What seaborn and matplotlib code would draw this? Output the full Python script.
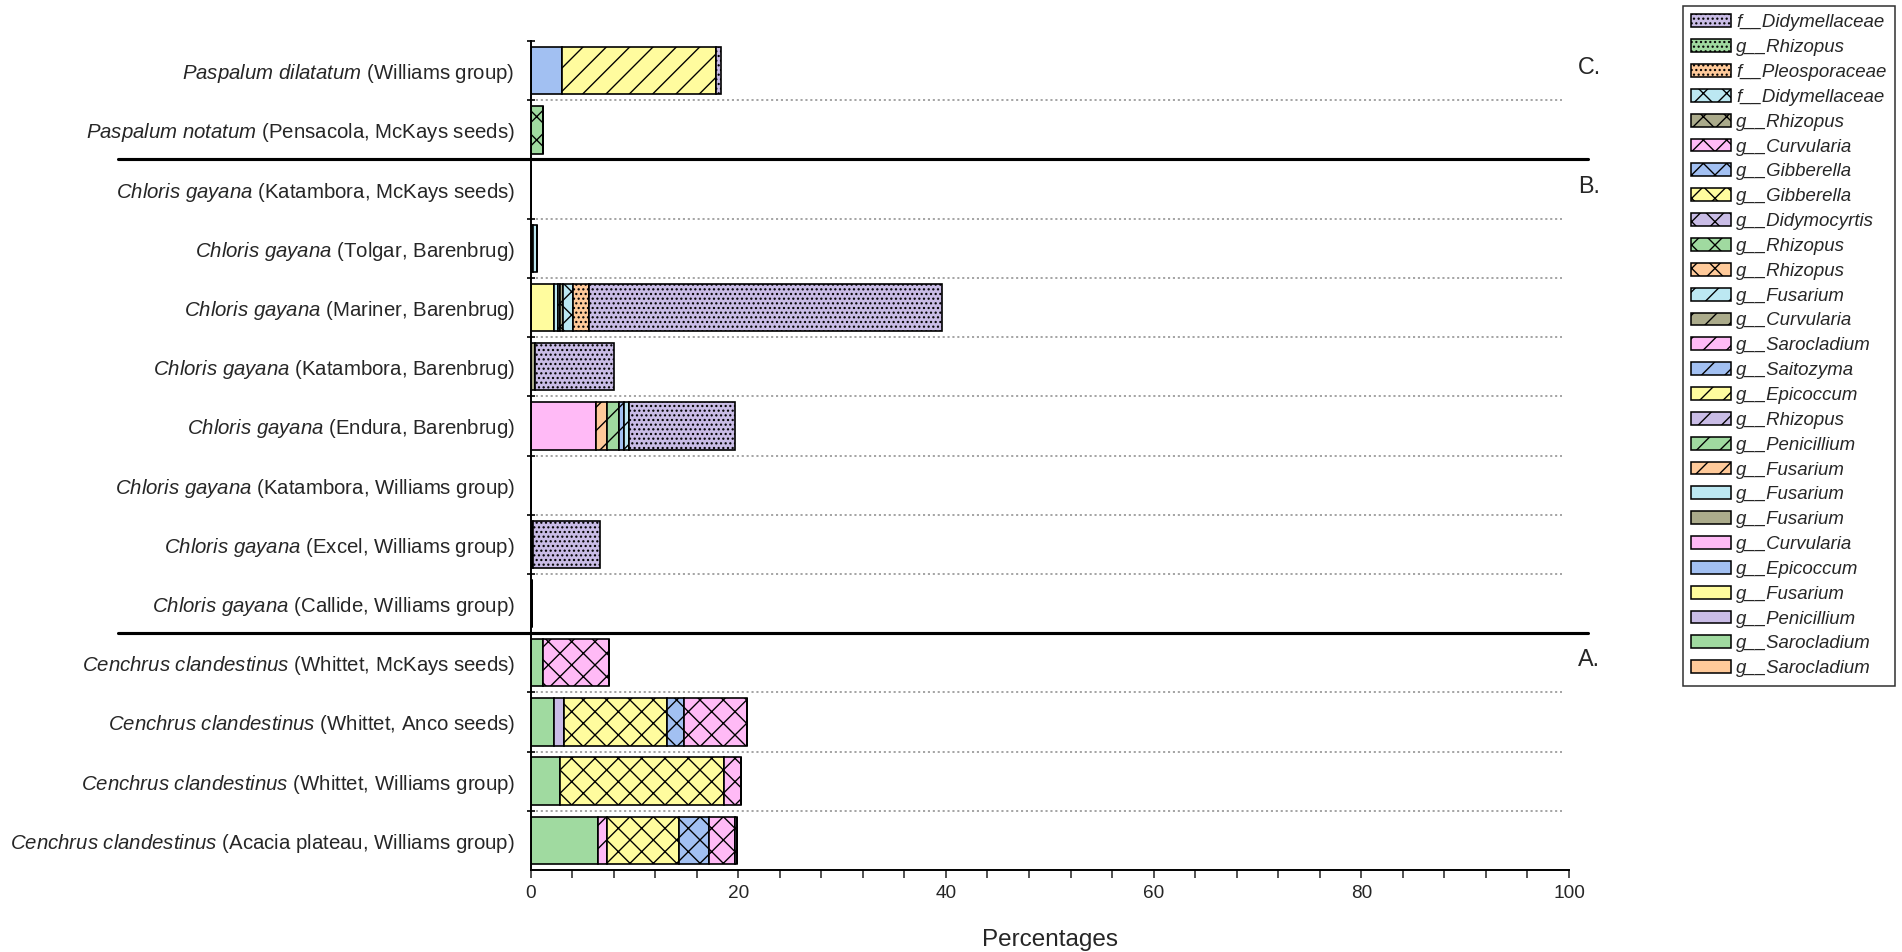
import numpy as np
import pandas as pd
import seaborn as sns
import matplotlib.pyplot as plt
from matplotlib.patches import Patch
from matplotlib.transforms import blended_transform_factory

# taxa, listed in stacking order (left to right in a bar, bottom to top in the legend)
taxa = ["g__Sarocladium", "g__Sarocladium", "g__Penicillium", "g__Fusarium",
        "g__Epicoccum", "g__Curvularia", "g__Fusarium", "g__Fusarium",
        "g__Fusarium", "g__Penicillium", "g__Rhizopus", "g__Epicoccum",
        "g__Saitozyma", "g__Sarocladium", "g__Curvularia", "g__Fusarium",
        "g__Rhizopus", "g__Rhizopus", "g__Didymocyrtis", "g__Gibberella",
        "g__Gibberella", "g__Curvularia", "g__Rhizopus", "f__Didymellaceae",
        "f__Pleosporaceae", "g__Rhizopus", "f__Didymellaceae"]
fills = ["#FFCA9A", "#A0DAA0", "#C9BCE6", "#FFFC9E",
         "#A2C0F2", "#FFBAF6", "#ABAB8B", "#BCE8F2"]
hatches = ["", "//", "xx", "....."]

species = ["Paspalum dilatatum", "Paspalum notatum"] + ["Chloris gayana"] * 8 + \
          ["Cenchrus clandestinus"] * 4
details = ["Williams group", "Pensacola, McKays seeds", "Katambora, McKays seeds",
           "Tolgar, Barenbrug", "Mariner, Barenbrug", "Katambora, Barenbrug",
           "Endura, Barenbrug", "Katambora, Williams group", "Excel, Williams group",
           "Callide, Williams group", "Whittet, McKays seeds", "Whittet, Anco seeds",
           "Whittet, Williams group", "Acacia plateau, Williams group"]

# percentages per sample, keyed by taxon index
pd_williams = {4: 3.0, 11: 14.9, 26: 0.45}
pn_pensacola = {17: 1.25}
cg_katambora_mckays = {}
cg_tolgar = {6: 0.2, 7: 0.45}
cg_mariner = {3: 2.3, 7: 0.3, 15: 0.2, 22: 0.3, 23: 1.0, 24: 1.5, 26: 34.0}
cg_katambora_baren = {6: 0.4, 26: 7.65}
cg_endura = {5: 6.3, 8: 1.1, 9: 1.1, 12: 0.55, 15: 0.4, 26: 10.2}
cg_katambora_williams = {}
cg_excel = {15: 0.27, 26: 6.43}
cg_callide = {6: 0.15}
cc_mckays = {1: 1.25, 21: 6.3}
cc_anco = {1: 2.3, 2: 0.9, 19: 9.9, 20: 1.7, 21: 6.0}
cc_williams = {1: 2.8, 19: 15.8, 21: 1.7}
cc_acacia = {1: 6.5, 13: 0.9, 19: 6.9, 20: 2.9, 21: 2.5, 23: 0.2}

samples = [pd_williams, pn_pensacola, cg_katambora_mckays, cg_tolgar, cg_mariner,
           cg_katambora_baren, cg_endura, cg_katambora_williams, cg_excel,
           cg_callide, cc_mckays, cc_anco, cc_williams, cc_acacia]

rows = [s + " (" + d + ")" for s, d in zip(species, details)]
table = pd.DataFrame([[smp.get(i, 0.0) for i in range(len(taxa))] for smp in samples],
                     index=rows)
lefts = table.cumsum(axis=1).shift(1, axis=1).fillna(0.0)

DPI = 140
sns.set_style("white")
plt.rcParams["font.family"] = ["Liberation Sans", "DejaVu Sans"]
plt.rcParams["mathtext.fontset"] = "custom"
plt.rcParams["mathtext.rm"] = "Liberation Sans"
plt.rcParams["mathtext.it"] = "Liberation Sans:italic"
plt.rcParams["hatch.linewidth"] = 0.7

fig = plt.figure(figsize=(1902 / DPI, 952 / DPI), dpi=DPI)
ax = fig.add_axes([530.5 / 1902, 1 - 870 / 952, 1038.5 / 1902, 829 / 952])

# dotted separators between samples
for k in range(len(rows) - 1):
    if k in (1, 9):
        continue
    ax.hlines(k + 0.5, 0, 99.3, colors="#9a9a9a", linestyles=(0, (1.2, 1.6)),
              linewidth=0.9, zorder=0)

for i, name in enumerate(taxa):
    sns.barplot(x=table[i].values, y=rows, order=rows, left=lefts[i].values,
                color=fills[i % 8], hatch=hatches[i // 8], edgecolor="black",
                linewidth=0.85, saturation=1, width=0.8, errorbar=None,
                orient="h", ax=ax, zorder=2)

ax.set_xlim(0, 100)
ax.set_ylim(len(rows) - 0.5, -0.5)

labels = []
for s, d in zip(species, details):
    labels.append(r"$\mathit{" + s.replace(" ", r"\ ") + "}$ (" + d + ")")
ax.set_yticks(range(len(rows)), labels, fontsize=10.5)
ax.set_yticks(np.arange(-0.5, len(rows) - 1, 1), minor=True)
ax.tick_params(axis="y", which="major", length=0, pad=8)
ax.tick_params(axis="y", which="minor", length=4, width=1, direction="inout",
               left=True)
ax.set_xticks(range(0, 101, 20))
ax.set_xticks(range(0, 101, 4), minor=True)
ax.tick_params(axis="x", which="both", direction="out", length=4, width=0.8,
               labelsize=9.8, bottom=True)
ax.set_xlabel("Percentages", fontsize=12.5, labelpad=14)
ax.set_ylabel("")

sns.despine(ax=ax)
for side in ("left", "bottom"):
    ax.spines[side].set_linewidth(1.0)
    ax.spines[side].set_color("black")

# thick group separators and group letters
trans = blended_transform_factory(ax.transAxes, ax.transData)
for yb in (1.5, 9.5):
    ax.plot([-0.397, 1.018], [yb, yb], color="black", linewidth=1.6,
            transform=trans, clip_on=False, zorder=3)
for row, letter in ((0, "C."), (2, "B."), (10, "A.")):
    ax.text(1.0085, row - 0.05, letter, transform=trans, fontsize=12,
            ha="left", va="center")

handles = [Patch(facecolor=fills[i % 8], hatch=hatches[i // 8], edgecolor="black",
                 linewidth=0.8, label=taxa[i]) for i in reversed(range(len(taxa)))]
leg = fig.legend(handles=handles, loc="upper left",
                 bbox_to_anchor=(1683 / 1902, 1 - 6 / 952),
                 prop={"style": "italic", "size": 9.6}, frameon=True,
                 fancybox=False, edgecolor="black", handlelength=2.1,
                 handleheight=0.68, labelspacing=0.42, borderpad=0.45,
                 handletextpad=0.3, borderaxespad=0)
leg.get_frame().set_linewidth(0.8)

fig.savefig("out.png", dpi=DPI)
